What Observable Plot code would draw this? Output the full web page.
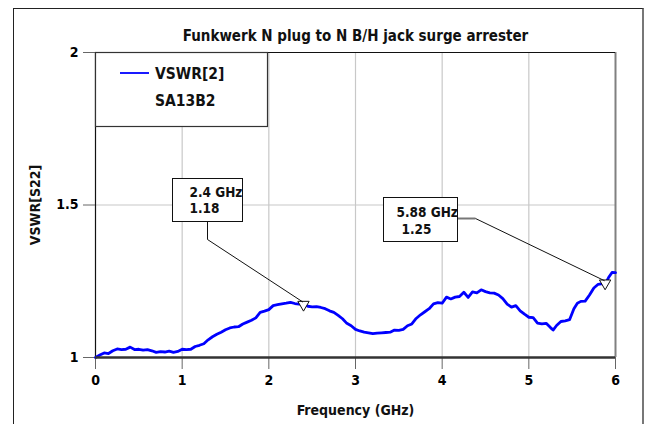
<!DOCTYPE html>
<html><head><meta charset="utf-8">
<script src="https://cdn.jsdelivr.net/npm/d3@7"></script>
<script src="https://cdn.jsdelivr.net/npm/@observablehq/plot@0.6"></script>
<style>
html,body{margin:0;padding:0;background:#fff;overflow:hidden;}
#wrap{position:relative;width:649px;height:424px;}
#border{position:absolute;left:13px;top:8px;width:631px;height:430px;border:1.5px solid #222;border-right:2px solid #777;box-sizing:border-box;}
#wrap svg{position:absolute;left:0;top:0;}
</style></head><body><div id="wrap"><div id="border"></div></div>
<script>
const title = "Funkwerk N plug to N B/H jack surge arrester";
const xLabel = "Frequency (GHz)";
const yLabel = "VSWR[S22]";
const seriesName = "VSWR[2]";
const deviceName = "SA13B2";
const xTicks = [0, 1, 2, 3, 4, 5, 6];
const yTicks = [1, 1.5, 2];
const yTickLabels = ["1", "1.5", "2"];
const freq = [0.00,0.05,0.10,0.15,0.20,0.25,0.30,0.35,0.40,0.45,0.50,0.55,0.60,0.65,0.70,0.75,0.80,0.85,0.90,0.95,
  1.00,1.05,1.10,1.15,1.20,1.25,1.30,1.35,1.40,1.45,1.50,1.55,1.60,1.65,1.70,1.75,1.80,1.85,1.90,1.95,
  2.00,2.05,2.10,2.15,2.20,2.25,2.30,2.35,2.40,2.45,2.50,2.55,2.60,2.65,2.70,2.75,2.80,2.85,2.90,2.95,
  3.00,3.05,3.10,3.15,3.20,3.25,3.30,3.35,3.40,3.45,3.50,3.55,3.60,3.65,3.70,3.75,3.80,3.85,3.90,3.95,
  4.00,4.05,4.10,4.15,4.20,4.25,4.30,4.35,4.40,4.45,4.50,4.55,4.60,4.65,4.70,4.75,4.80,4.85,4.90,4.95,
  5.00,5.05,5.10,5.15,5.20,5.25,5.28,5.32,5.37,5.42,5.47,5.52,5.56,5.60,5.65,5.70,5.75,5.80,5.85,5.88,5.92,5.96,6.00];
const vswr = [1.000,1.008,1.015,1.013,1.022,1.028,1.026,1.027,1.034,1.026,1.027,1.024,1.026,1.022,1.017,1.019,1.018,1.021,1.017,1.020,
  1.027,1.026,1.027,1.036,1.040,1.045,1.058,1.068,1.076,1.083,1.091,1.097,1.100,1.101,1.110,1.116,1.122,1.130,1.148,1.152,
  1.157,1.170,1.173,1.176,1.178,1.181,1.177,1.175,1.174,1.168,1.166,1.167,1.164,1.160,1.153,1.148,1.138,1.127,1.112,1.104,
  1.092,1.087,1.083,1.081,1.078,1.080,1.081,1.082,1.083,1.090,1.089,1.092,1.104,1.110,1.128,1.140,1.150,1.160,1.176,1.180,
  1.178,1.198,1.192,1.198,1.200,1.214,1.197,1.215,1.212,1.222,1.216,1.212,1.211,1.205,1.193,1.175,1.165,1.170,1.153,1.142,
  1.132,1.131,1.113,1.110,1.112,1.098,1.090,1.105,1.118,1.120,1.124,1.160,1.178,1.184,1.185,1.205,1.228,1.240,1.242,1.240,1.262,1.279,1.278];
const markerFreq = [2.4, 5.88];
const markerVswr = [1.18, 1.25];
const markerLabels = [["2.4 GHz", "1.18"], ["5.88 GHz", "1.25"]];

const data = freq.map((f, i) => ({f, v: vswr[i]}));
const markers = markerFreq.map((f, i) => ({f, v: markerVswr[i]}));
const FONT = "DejaVu Sans Condensed, DejaVu Sans, sans-serif";

const plot = Plot.plot({
  width: 649, height: 424,
  marginLeft: 95, marginRight: 34, marginTop: 52, marginBottom: 67,
  style: {fontFamily: FONT, fontSize: "12px", background: "transparent"},
  x: {domain: [0, 6]},
  y: {domain: [1, 2]},
  marks: [
    Plot.ruleX(xTicks.slice(1, -1), {stroke: "#c8c8c8", strokeWidth: 1.2}),
    Plot.ruleY([1.5], {stroke: "#c8c8c8", strokeWidth: 1.2}),
    Plot.ruleX([6], {stroke: "#808080", strokeWidth: 2}),
    Plot.ruleY([2], {stroke: "#111", strokeWidth: 1.2}),
    Plot.ruleX([0], {stroke: "#111", strokeWidth: 1.2}),
    Plot.axisX({ticks: xTicks, tickSize: 12, tickPadding: 6, fontWeight: "bold", fontSize: 14, stroke: "#666", label: null, tickFormat: d => String(d)}),
    Plot.axisY({ticks: yTicks, tickSize: 12, tickPadding: 5, fontWeight: "bold", fontSize: 14, stroke: "#666", label: null, tickFormat: (d, i) => yTickLabels[i]}),
    Plot.line(data, {x: "f", y: "v", stroke: "#0000ff", strokeWidth: 2.8, curve: "linear"}),
    Plot.ruleY([1], {stroke: "#333", strokeWidth: 2.5}),
    Plot.dot(markers, {x: "f", y: "v", symbol: "triangle", rotate: 180, r: 4.2, dy: 2, stroke: "#111", fill: "white", strokeWidth: 1}),
    Plot.text([title], {frameAnchor: "top", dy: -22, fontWeight: "bold", fontSize: 15, fill: "#111"}),
    Plot.text([xLabel], {frameAnchor: "bottom", dy: 57, fontWeight: "bold", fontSize: 14, fill: "#111"}),
    Plot.text([yLabel], {frameAnchor: "left", dx: -60, rotate: -90, textAnchor: "middle", fontWeight: "bold", fontSize: 14, fill: "#111"})
  ]
});
document.getElementById("wrap").appendChild(plot);

const sx = plot.scale("x"), sy = plot.scale("y");
const svg = d3.select(plot);
const g = svg.append("g").attr("font-family", FONT).attr("font-weight", "bold").attr("fill", "#111").attr("text-anchor", "start");

// legend box
const lx = sx.apply(0), ly = sy.apply(2);
g.append("rect").attr("x", lx + 0.5).attr("y", ly + 0.5).attr("width", 172).attr("height", 74)
  .attr("fill", "white").attr("stroke", "#333").attr("stroke-width", 1.2);
g.append("line").attr("x1", lx + 25).attr("x2", lx + 54).attr("y1", ly + 21).attr("y2", ly + 21)
  .attr("stroke", "#0000ff").attr("stroke-width", 1.8);
g.append("text").attr("x", lx + 60).attr("y", ly + 27).attr("font-size", 15.5).text(seriesName);
g.append("text").attr("x", lx + 60).attr("y", ly + 54).attr("font-size", 15.5).text(deviceName);

// marker annotation boxes
const boxes = [
  {dx: -131, dy: -124, w: 70, h: 43, anchor: [35, 43], bend: [35, 61], t1: [17, 18], t2: [17, 34], side: "bottom"},
  {dx: -222, dy: -84, w: 74, h: 44, anchor: [74, 21], bend: [92, 21], t1: [13, 19], t2: [18, 36], side: "right"}
];
markers.forEach((m, i) => {
  const px = sx.apply(m.f), py = sy.apply(m.v);
  const b = boxes[i];
  const bx = Math.round(px + b.dx) + 0.5, by = Math.round(py + b.dy) + 0.5;
  if (b.side === "bottom") {
    g.append("polyline").attr("points", `${bx + b.anchor[0]},${by + b.anchor[1]} ${bx + b.bend[0]},${by + b.bend[1]} ${px},${py}`)
      .attr("fill", "none").attr("stroke", "#111").attr("stroke-width", 1);
  } else {
    g.append("line").attr("x1", bx + b.anchor[0]).attr("y1", by + b.anchor[1]).attr("x2", bx + b.bend[0]).attr("y2", by + b.bend[1])
      .attr("stroke", "#777").attr("stroke-width", 2);
    g.append("line").attr("x1", bx + b.bend[0]).attr("y1", by + b.bend[1]).attr("x2", px).attr("y2", py)
      .attr("stroke", "#111").attr("stroke-width", 1);
  }
  g.append("rect").attr("x", bx).attr("y", by).attr("width", b.w).attr("height", b.h)
    .attr("fill", "white").attr("stroke", "#111").attr("stroke-width", 1);
  g.append("text").attr("x", bx + b.t1[0]).attr("y", by + b.t1[1]).attr("font-size", 13.5).text(markerLabels[i][0]);
  g.append("text").attr("x", bx + b.t2[0]).attr("y", by + b.t2[1]).attr("font-size", 13.5).text(markerLabels[i][1]);
});
</script></body></html>
